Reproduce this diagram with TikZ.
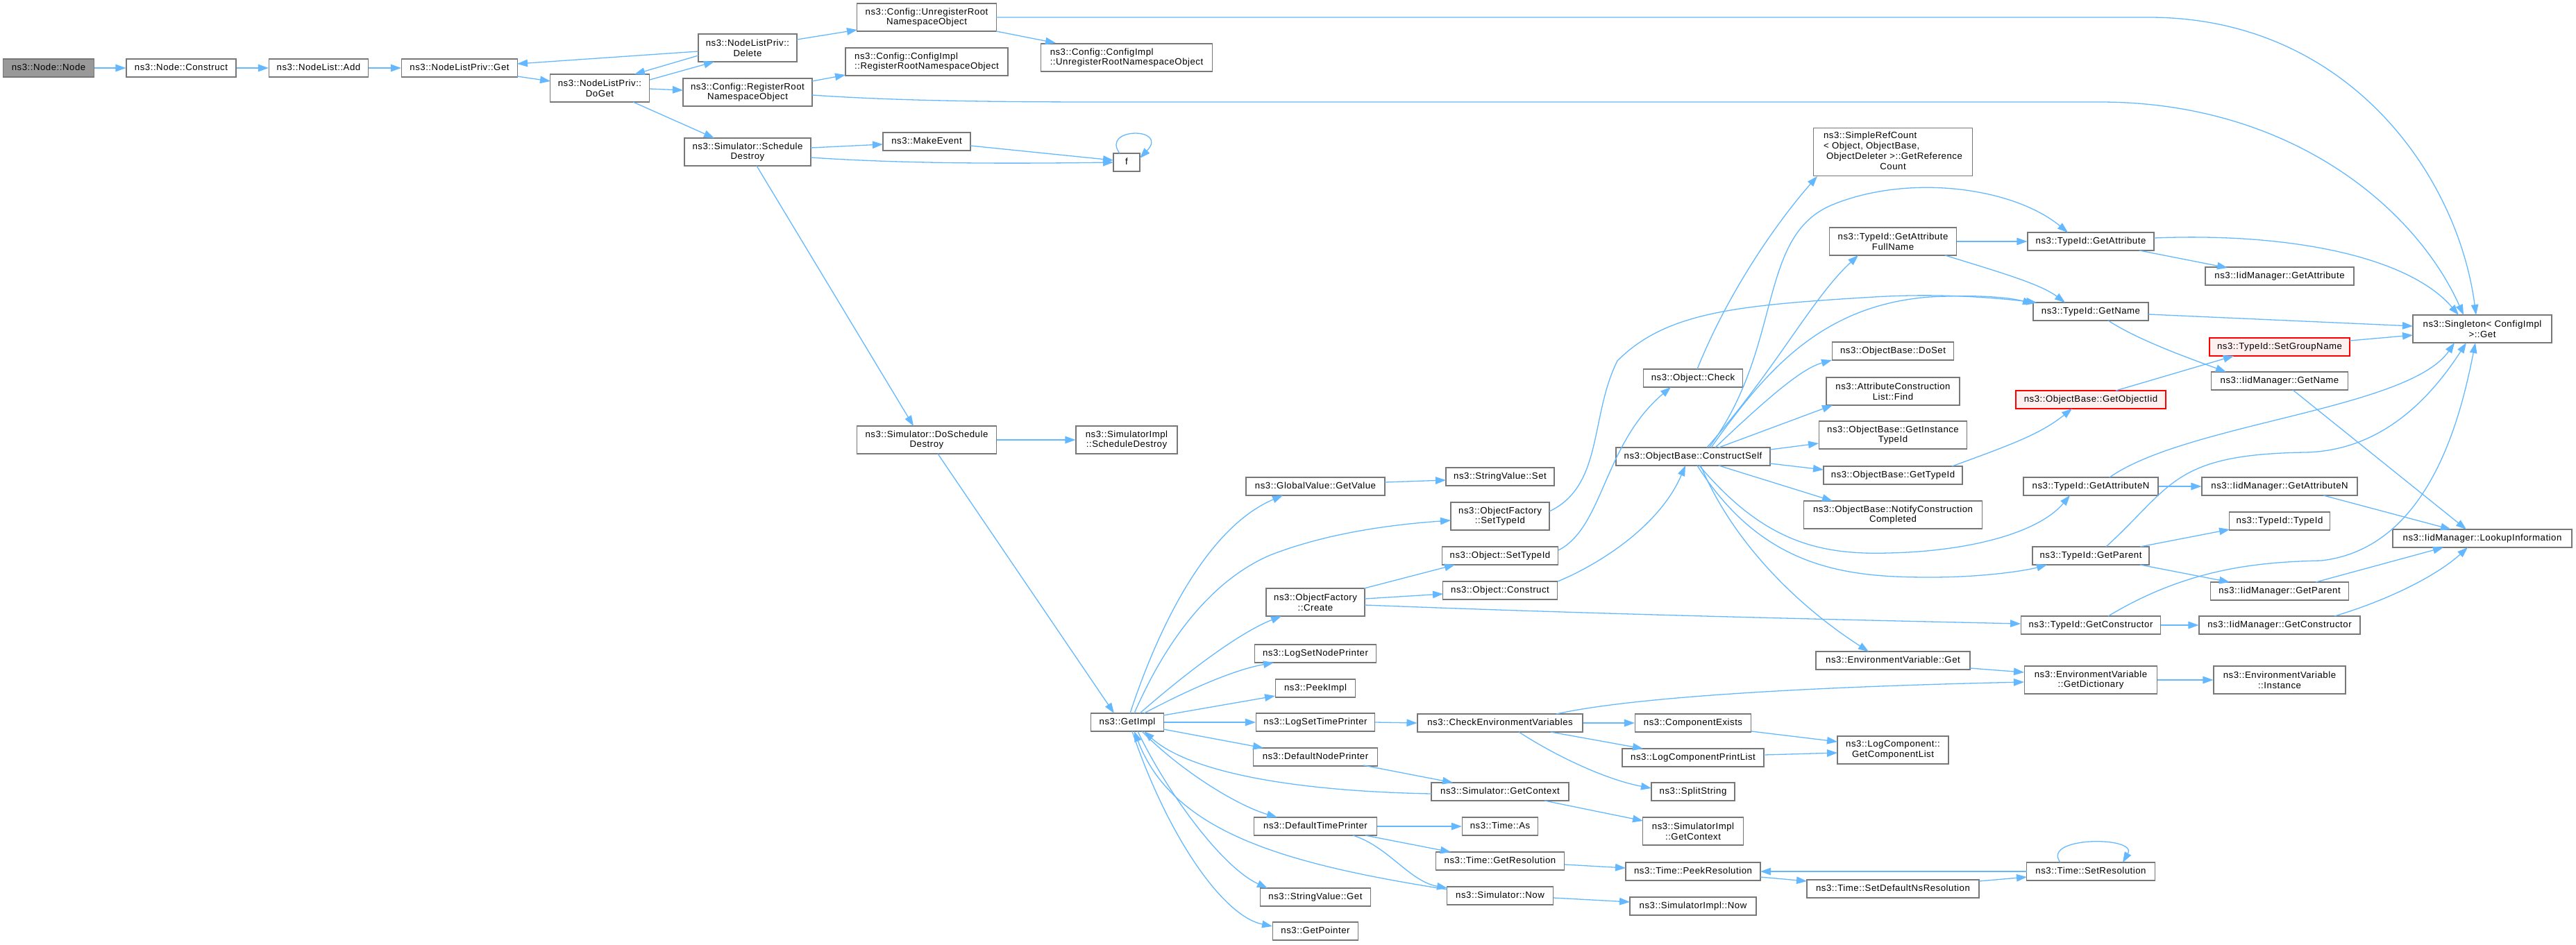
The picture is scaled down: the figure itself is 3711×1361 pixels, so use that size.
\documentclass[tikz,border=0pt]{standalone}
\usepackage{fontspec}
\setmainfont[LetterSpace=4]{Liberation Sans}
\usetikzlibrary{arrows.meta,calc}
\definecolor{edgec}{HTML}{63B8FF}
\definecolor{boxc}{HTML}{777777}
\definecolor{rootc}{HTML}{999999}
\definecolor{redfill}{HTML}{FFF0F0}
\tikzset{
  nd/.style={draw=boxc, line width=1.1pt, fill=white, inner sep=0pt, minimum height=26pt, align=center, text height=9.5pt, text depth=2.5pt},
  nd2/.style={draw=boxc, line width=1.1pt, fill=white, inner sep=0pt, minimum height=40pt, align=center},
  ndl/.style={nd2, align=left},
  rootnd/.style={nd, fill=rootc},
  rednd/.style={nd, draw=red, fill=redfill},
  ed/.style={draw=edgec, line width=1.3pt, -{Triangle[length=15pt,width=10.5pt]}},
}
\begin{document}
\begin{tikzpicture}[x=1pt,y=-1pt,font=\fontsize{13.2}{14.8}\selectfont]
\useasboundingbox (0,0) rectangle (3711,1361);
% ---------- nodes ----------
\node[rootnd, minimum width=131] (nodeNode) at (70,98) {ns3::Node::Node};
\node[nd, minimum width=158] (construct) at (261,98) {ns3::Node::Construct};
\node[nd, minimum width=143] (add) at (459,98) {ns3::NodeList::Add};
\node[nd, minimum width=167] (get) at (662,98) {ns3::NodeListPriv::Get};
\node[nd2, minimum width=142] (delete) at (1077,69) {ns3::NodeListPriv::\\Delete};
\node[nd2, minimum width=143] (doget) at (864,127) {ns3::NodeListPriv::\\DoGet};
\node[nd2, minimum width=201] (unreg) at (1335,25) {ns3::Config::UnregisterRoot\\NamespaceObject};
\node[ndl, minimum width=234] (cimplreg) at (1335,89) {ns3::Config::ConfigImpl\\::RegisterRootNamespaceObject};
\node[nd2, minimum width=186] (cfgreg) at (1077,133) {ns3::Config::RegisterRoot\\NamespaceObject};
\node[nd2, minimum width=182] (schdes) at (1077,219) {ns3::Simulator::Schedule\\Destroy};
\node[nd, minimum width=126] (makeev) at (1335,204) {ns3::MakeEvent};
\node[ndl, minimum width=247] (cimplunreg) at (1623,83) {ns3::Config::ConfigImpl\\::UnregisterRootNamespaceObject};
\node[nd, minimum width=38] (f) at (1623,234) {f};
\node[nd2, minimum width=201] (doschdes) at (1335,634) {ns3::Simulator::DoSchedule\\Destroy};
\node[nd2, minimum width=146] (simimplschdes) at (1623,634) {ns3::SimulatorImpl\\::ScheduleDestroy};
\node[nd, minimum width=105] (getimpl) at (1624,1041) {ns3::GetImpl};
\node[nd, minimum width=200] (globalval) at (1895,701) {ns3::GlobalValue::GetValue};
\node[nd2, minimum width=142] (create) at (1895,868) {ns3::ObjectFactory\\::Create};
\node[nd, minimum width=175] (logsetnode) at (1895,942) {ns3::LogSetNodePrinter};
\node[nd, minimum width=115] (peekimpl) at (1895,992) {ns3::PeekImpl};
\node[nd, minimum width=171] (logsettime) at (1895,1041) {ns3::LogSetTimePrinter};
\node[nd, minimum width=179] (defnode) at (1895,1091) {ns3::DefaultNodePrinter};
\node[nd, minimum width=177] (deftime) at (1895,1191) {ns3::DefaultTimePrinter};
\node[nd, minimum width=159] (strget) at (1895,1293) {ns3::StringValue::Get};
\node[nd, minimum width=123] (getptr) at (1895,1342) {ns3::GetPointer};
\node[nd, minimum width=156] (strset) at (2161,687) {ns3::StringValue::Set};
\node[nd2, minimum width=142] (ofsettype) at (2161,744) {ns3::ObjectFactory\\::SetTypeId};
\node[nd, minimum width=167] (objsettype) at (2161,801) {ns3::Object::SetTypeId};
\node[nd, minimum width=165] (objconstruct) at (2161,851) {ns3::Object::Construct};
\node[nd, minimum width=238] (checkenv) at (2161,1042) {ns3::CheckEnvironmentVariables};
\node[nd, minimum width=198] (simgetctx) at (2161,1141) {ns3::Simulator::GetContext};
\node[nd, minimum width=109] (timeas) at (2161,1191) {ns3::Time::As};
\node[nd, minimum width=185] (getres) at (2161,1241) {ns3::Time::GetResolution};
\node[nd, minimum width=153] (simnow) at (2161,1291) {ns3::Simulator::Now};
\node[nd, minimum width=143] (objcheck) at (2439,545) {ns3::Object::Check};
\node[nd, minimum width=222] (constructself) at (2439,658) {ns3::ObjectBase::ConstructSelf};
\node[nd, minimum width=167] (compexists) at (2439,1042) {ns3::ComponentExists};
\node[nd, minimum width=204] (logcompprint) at (2439,1092) {ns3::LogComponentPrintList};
\node[nd, minimum width=120] (splitstr) at (2439,1141) {ns3::SplitString};
\node[nd2, minimum width=145] (simimplctx) at (2439,1198) {ns3::SimulatorImpl\\::GetContext};
\node[nd, minimum width=194] (peekres) at (2439,1256) {ns3::Time::PeekResolution};
\node[nd, minimum width=182] (simimplnow) at (2439,1306) {ns3::SimulatorImpl::Now};
\node[nd2, minimum width=229, minimum height=69] (refcount) at (2727,219) {\begin{tabular}{@{}l@{}}ns3::SimpleRefCount\\< Object, ObjectBase,\\\hspace{4pt}ObjectDeleter >::GetReference\\\multicolumn{1}{@{}c@{}}{Count}\end{tabular}};
\node[nd2, minimum width=183] (getattrfull) at (2727,348) {ns3::TypeId::GetAttribute\\FullName};
\node[nd, minimum width=175] (doset) at (2727,506) {ns3::ObjectBase::DoSet};
\node[nd2, minimum width=192] (attrfind) at (2727,564) {ns3::AttributeConstruction\\List::Find};
\node[nd2, minimum width=213] (getinst) at (2727,627) {ns3::ObjectBase::GetInstance\\TypeId};
\node[nd, minimum width=200] (obgettype) at (2727,685) {ns3::ObjectBase::GetTypeId};
\node[nd2, minimum width=257] (notify) at (2727,742) {ns3::ObjectBase::NotifyConstruction\\Completed};
\node[nd, minimum width=222] (envget) at (2727,952) {ns3::EnvironmentVariable::Get};
\node[nd2, minimum width=160] (getcomplist) at (2727,1081) {ns3::LogComponent::\\GetComponentList};
\node[nd, minimum width=248] (setdefns) at (2727,1281) {ns3::Time::SetDefaultNsResolution};
\node[nd, minimum width=182] (getattr) at (3012,348) {ns3::TypeId::GetAttribute};
\node[nd, minimum width=166] (getname) at (3012,449) {ns3::TypeId::GetName};
\node[rednd, minimum width=216] (getobjiid) at (3012,576) {ns3::ObjectBase::GetObjectIid};
\node[nd, minimum width=194] (getattrn) at (3012,701) {ns3::TypeId::GetAttributeN};
\node[nd, minimum width=168] (getparent) at (3012,801) {ns3::TypeId::GetParent};
\node[nd, minimum width=201] (getctor) at (3012,901) {ns3::TypeId::GetConstructor};
\node[nd2, minimum width=191] (getdict) at (3012,980) {ns3::EnvironmentVariable\\::GetDictionary};
\node[nd, minimum width=185] (setres) at (3012,1256) {ns3::Time::SetResolution};
\node[nd, minimum width=214] (iidgetattr) at (3284,398) {ns3::IidManager::GetAttribute};
\node[rednd, minimum width=202] (setgroup) at (3284,500) {ns3::TypeId::SetGroupName};
\node[nd, minimum width=197] (iidgetname) at (3284,549) {ns3::IidManager::GetName};
\node[nd, minimum width=224] (iidgetattrn) at (3284,701) {ns3::IidManager::GetAttributeN};
\node[nd, minimum width=145] (typeidtypeid) at (3284,751) {ns3::TypeId::TypeId};
\node[nd, minimum width=199] (iidgetparent) at (3284,852) {ns3::IidManager::GetParent};
\node[nd, minimum width=232] (iidgetctor) at (3284,901) {ns3::IidManager::GetConstructor};
\node[nd2, minimum width=190] (envinst) at (3284,980) {ns3::EnvironmentVariable\\::Instance};
\node[nd2, minimum width=200] (singleton) at (3576,474) {ns3::Singleton< ConfigImpl\\ >::Get};
\node[nd, minimum width=258] (lookup) at (3576,776) {ns3::IidManager::LookupInformation};
% ---------- edges ----------
\draw[ed] (nodeNode.east) -- (construct.west);
\draw[ed] (construct.east) -- (add.west);
\draw[ed] (add.east) -- (get.west);
\draw[ed] ($(get)+(83,12)$) -- ($(doget)+(-71,-10)$);
\draw[ed] ($(doget)+(72,-12)$) -- ($(delete)+(-48,20)$);
\draw[ed] ($(delete)+(-71,5)$) -- ($(get)+(83,-6)$);
\draw[ed] ($(delete)+(-71,11)$) -- ($(doget)+(50,-20)$);
\draw[ed] ($(doget)+(72,1)$) -- ($(cfgreg)+(-93,-3)$);
\draw[ed] ($(doget)+(48,20)$) -- ($(schdes)+(-48,-20)$);
\draw[ed] ($(delete)+(71,-12)$) -- ($(unreg)+(-100,18)$);
\draw[ed] ($(cfgreg)+(93,-16)$) -- ($(cimplreg)+(-117,19)$);
\draw[ed] ($(schdes)+(91,-6)$) -- ($(makeev)+(-63,4)$);
\draw[ed] ($(schdes)+(91,8)$) .. controls (1300,236) and (1450,236) .. ($(f)+(-19,0)$);
\draw[ed] ($(makeev)+(63,6)$) -- ($(f)+(-19,-3)$);
\draw[ed] ($(f)+(-10,-13)$) .. controls (1585,183) and (1685,183) .. ($(f)+(19,-6)$);
\draw[ed] ($(unreg)+(100,20)$) -- ($(cimplunreg)+(-102,-21)$);
\draw[ed] ($(unreg)+(100,0)$) -- (3096,25) .. controls (3380,25) and (3540,250) .. ($(singleton)+(-9,-20)$);
\draw[ed] ($(cfgreg)+(93,4)$) .. controls (1300,146) and (1450,147) .. (1600,147) -- (3025,147) .. controls (3300,147) and (3480,300) .. ($(singleton)+(-27,-20)$);
\draw[ed] ($(getattr)+(91,-5)$) .. controls (3300,335) and (3470,370) .. ($(singleton)+(-34,-20)$);
\draw[ed] ($(getname)+(83,4)$) -- ($(singleton)+(-100,-4)$);
\draw[ed] ($(setgroup)+(101,-9)$) -- ($(singleton)+(-100,9)$);
\draw[ed] ($(getattrn)+(27,-13)$) .. controls (3150,610) and (3470,590) .. ($(singleton)+(-40,20)$);
\draw[ed] ($(getparent)+(22,-13)$) .. controls (3130,700) and (3130,655) .. (3320,652) .. controls (3440,650) and (3510,560) .. ($(singleton)+(-23,20)$);
\draw[ed] ($(getctor)+(25,-13)$) .. controls (3150,820) and (3250,810) .. (3344,808) .. controls (3500,790) and (3545,600) .. ($(singleton)+(-10,20)$);
\draw[ed] ($(getname)+(25,13)$) .. controls (3080,490) and (3150,515) .. ($(iidgetname)+(-77,-13)$);
\draw[ed] ($(getobjiid)+(36,-13)$) -- ($(setgroup)+(-66,13)$);
\draw[ed] ($(obgettype)+(85,-13)$) .. controls (2900,640) and (2940,625) .. ($(getobjiid)+(-27,13)$);
\draw[ed] ($(iidgetname)+(19,13)$) -- ($(lookup)+(-23,-13)$);
\draw[ed] (getattrn.east) -- (iidgetattrn.west);
\draw[ed] ($(iidgetattrn)+(63,13)$) -- ($(lookup)+(-45,-13)$);
\draw[ed] ($(getparent)+(71,-13)$) -- ($(typeidtypeid)+(-72,12)$);
\draw[ed] ($(getparent)+(71,13)$) -- ($(iidgetparent)+(-72,-13)$);
\draw[ed] ($(iidgetparent)+(52,-13)$) -- ($(lookup)+(-56,13)$);
\draw[ed] ($(iidgetctor)+(79,-13)$) .. controls (3440,865) and (3510,830) .. ($(lookup)+(-21,13)$);
\draw[ed] (getctor.east) -- (iidgetctor.west);
\draw[ed] ($(getattr)+(70,13)$) -- ($(iidgetattr)+(-75,-12)$);
\draw[ed] (getattrfull.east) -- (getattr.west);
\draw[ed] ($(getattrfull)+(75,20)$) .. controls (2890,395) and (2940,410) .. ($(getname)+(-37,-13)$);
\draw[ed] (getdict.east) -- (envinst.west);
\draw[ed] ($(envget)+(111,11)$) -- ($(getdict)+(-96,-11)$);
\draw[ed] ($(checkenv)+(81,-13)$) .. controls (2350,1005) and (2600,990) .. ($(getdict)+(-96,3)$);
\draw[ed] (checkenv.east) -- (compexists.west);
\draw[ed] ($(checkenv)+(73,13)$) -- ($(logcompprint)+(-72,-13)$);
\draw[ed] ($(checkenv)+(27,13)$) .. controls (2250,1095) and (2320,1125) .. ($(splitstr)+(-60,-5)$);
\draw[ed] ($(compexists)+(84,12)$) -- ($(getcomplist)+(-80,-12)$);
\draw[ed] ($(logcompprint)+(102,-4)$) -- ($(getcomplist)+(-80,4)$);
\draw[ed] ($(simgetctx)+(64,13)$) -- ($(simimplctx)+(-72,-15)$);
\draw[ed] ($(getres)+(93,5)$) -- ($(peekres)+(-97,-5)$);
\draw[ed] ($(simnow)+(77,3)$) -- ($(simimplnow)+(-91,-6)$);
\draw[ed] ($(peekres)+(97,8)$) -- ($(setdefns)+(-124,-11)$);
\draw[ed] ($(setdefns)+(124,-11)$) -- ($(setres)+(-92,8)$);
\draw[ed] ($(setres)+(-92,0)$) -- ($(peekres)+(97,0)$);
\draw[ed] ($(setres)+(-44,-13)$) .. controls (2940,1205) and (3080,1205) .. ($(setres)+(46,-13)$);
\draw[ed] ($(defnode)+(69,12)$) -- ($(simgetctx)+(-68,-13)$);
\draw[ed] ($(simgetctx)+(-99,3)$) .. controls (1850,1140) and (1710,1110) .. ($(getimpl)+(24,13)$);
\draw[ed] ($(simnow)+(-76,-9)$) .. controls (1850,1245) and (1690,1200) .. ($(getimpl)+(10,13)$);
\draw[ed] ($(deftime)+(54,13)$) .. controls (2000,1220) and (2030,1270) .. ($(simnow)+(-76,-11)$);
\draw[ed] (deftime.east) -- (timeas.west);
\draw[ed] ($(deftime)+(72,13)$) -- ($(getres)+(-71,-13)$);
\draw[ed] ($(getimpl)+(21,13)$) .. controls (1700,1110) and (1780,1160) .. ($(deftime)+(-55,-13)$);
\draw[ed] ($(getimpl)+(15,13)$) .. controls (1680,1140) and (1760,1250) .. ($(strget)+(-69,-13)$);
\draw[ed] ($(getimpl)+(7,13)$) .. controls (1680,1200) and (1760,1320) .. ($(getptr)+(-62,-7)$);
\draw[ed] ($(getimpl)+(52,10)$) -- ($(defnode)+(-75,-13)$);
\draw[ed] (getimpl.east) -- (logsettime.west);
\draw[ed] ($(getimpl)+(52,-10)$) -- ($(peekimpl)+(-58,11)$);
\draw[ed] ($(getimpl)+(24,-13)$) .. controls (1720,990) and (1780,965) .. ($(logsetnode)+(-60,13)$);
\draw[ed] ($(getimpl)+(18,-13)$) .. controls (1720,960) and (1790,910) .. ($(create)+(-49,20)$);
\draw[ed] ($(getimpl)+(10,-13)$) .. controls (1690,900) and (1760,830) .. (1830,800) .. controls (1920,765) and (2020,755) .. ($(ofsettype)+(-71,6)$);
\draw[ed] ($(getimpl)+(4,-13)$) .. controls (1670,900) and (1740,760) .. ($(globalval)+(-47,13)$);
\draw[ed] ($(doschdes)+(16,20)$) -- ($(getimpl)+(-19,-13)$);
\draw[ed] ($(schdes)+(13,20)$) -- ($(doschdes)+(-19,-20)$);
\draw[ed] (doschdes.east) -- (simimplschdes.west);
\draw[ed] ($(globalval)+(100,-6)$) -- ($(strset)+(-78,5)$);
\draw[ed] ($(create)+(70,-20)$) -- ($(objsettype)+(-65,13)$);
\draw[ed] ($(create)+(71,-5)$) -- ($(objconstruct)+(-82,5)$);
\draw[ed] ($(create)+(71,4)$) .. controls (2300,885) and (2600,892) .. ($(getctor)+(-101,-2)$);
\draw[ed] ($(ofsettype)+(71,-7)$) .. controls (2310,700) and (2290,600) .. (2330,520) .. controls (2400,450) and (2500,440) .. (2700,428) .. controls (2800,422) and (2880,430) .. ($(getname)+(-78,-13)$);
\draw[ed] ($(objsettype)+(84,-8)$) .. controls (2310,760) and (2310,640) .. ($(objcheck)+(-32,13)$);
\draw[ed] ($(objconstruct)+(83,-13)$) .. controls (2300,815) and (2390,760) .. ($(constructself)+(-11,13)$);
\draw[ed] ($(objcheck)+(6,-13)$) .. controls (2490,420) and (2560,320) .. ($(refcount)+(-109,35)$);
\draw[ed] ($(constructself)+(20,-13)$) .. controls (2560,530) and (2610,430) .. ($(getattrfull)+(-50,20)$);
\draw[ed] ($(constructself)+(23,-13)$) .. controls (2570,500) and (2530,340) .. (2640,295) .. controls (2750,250) and (2900,270) .. ($(getattr)+(-33,-13)$);
\draw[ed] ($(constructself)+(26,-13)$) .. controls (2540,540) and (2620,440) .. (2780,428) .. controls (2860,424) and (2900,430) .. ($(getname)+(-83,-11)$);
\draw[ed] ($(constructself)+(32,-13)$) .. controls (2560,560) and (2600,530) .. ($(doset)+(-88,13)$);
\draw[ed] ($(constructself)+(37,-13)$) -- ($(attrfind)+(-87,20)$);
\draw[ed] ($(constructself)+(111,-10)$) -- ($(getinst)+(-107,12)$);
\draw[ed] ($(constructself)+(111,10)$) -- ($(obgettype)+(-100,-8)$);
\draw[ed] ($(constructself)+(37,13)$) -- ($(notify)+(-87,-20)$);
\draw[ed] ($(constructself)+(11,13)$) .. controls (2500,790) and (2600,880) .. ($(envget)+(-35,-13)$);
\draw[ed] ($(constructself)+(9,13)$) .. controls (2540,780) and (2620,800) .. (2720,797) .. controls (2830,795) and (2935,770) .. ($(getattrn)+(-30,13)$);
\draw[ed] ($(constructself)+(6,13)$) .. controls (2540,820) and (2660,832) .. (2780,832) .. controls (2860,832) and (2920,822) .. ($(getparent)+(-63,13)$);
\draw[ed] (logsettime.east) -- (checkenv.west);
\end{tikzpicture}
\end{document}
